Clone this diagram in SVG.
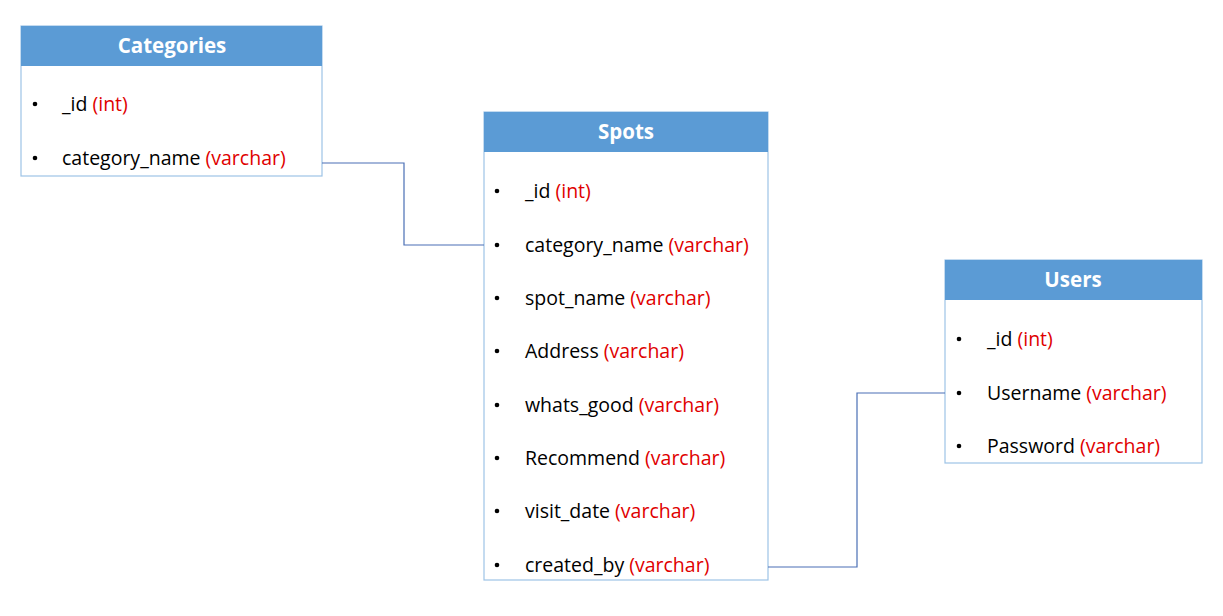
<svg xmlns="http://www.w3.org/2000/svg" width="1223" height="616" viewBox="0 0 1223 616">
<style>
.box{fill:#fff;stroke:#9DC3E6;stroke-width:1.2}
.hdr{fill:#5B9BD5}
.title{font-family:"Open Sans","Liberation Sans",sans-serif;font-weight:bold;font-size:20.5px;fill:#fff;text-anchor:middle}
.row{font-family:"Open Sans","Liberation Sans",sans-serif;font-size:19.5px;fill:#000}
.t{fill:#E00000}
.bul{fill:#000}
.conn{fill:none;stroke:#4A6FB5;stroke-width:1.2}
</style>
<rect width="1223" height="616" fill="#fff"/>
<g id="categories">
<rect class="box" x="21" y="26" width="301" height="150"/>
<rect class="hdr" x="21" y="26" width="301" height="40"/>
<text class="title" x="172" y="53">Categories</text>
<circle class="bul" cx="35" cy="104" r="2.3"/><text class="row" x="62" y="111">_id <tspan class="t">(int)</tspan></text>
<circle class="bul" cx="35" cy="158" r="2.3"/><text class="row" x="62" y="165">category_name <tspan class="t">(varchar)</tspan></text>
</g>
<g id="spots">
<rect class="box" x="484" y="112" width="284" height="468"/>
<rect class="hdr" x="484" y="112" width="284" height="40"/>
<text class="title" x="626" y="139">Spots</text>
<circle class="bul" cx="497" cy="191" r="2.3"/><text class="row" x="525" y="198">_id <tspan class="t">(int)</tspan></text>
<circle class="bul" cx="497" cy="245" r="2.3"/><text class="row" x="525" y="252">category_name <tspan class="t">(varchar)</tspan></text>
<circle class="bul" cx="497" cy="298" r="2.3"/><text class="row" x="525" y="305">spot_name <tspan class="t">(varchar)</tspan></text>
<circle class="bul" cx="497" cy="351" r="2.3"/><text class="row" x="525" y="358">Address <tspan class="t">(varchar)</tspan></text>
<circle class="bul" cx="497" cy="405" r="2.3"/><text class="row" x="525" y="412">whats_good <tspan class="t">(varchar)</tspan></text>
<circle class="bul" cx="497" cy="458" r="2.3"/><text class="row" x="525" y="465">Recommend <tspan class="t">(varchar)</tspan></text>
<circle class="bul" cx="497" cy="511" r="2.3"/><text class="row" x="525" y="518">visit_date <tspan class="t">(varchar)</tspan></text>
<circle class="bul" cx="497" cy="565" r="2.3"/><text class="row" x="525" y="572">created_by <tspan class="t">(varchar)</tspan></text>
</g>
<g id="users">
<rect class="box" x="945" y="260" width="257" height="203"/>
<rect class="hdr" x="945" y="260" width="257" height="40"/>
<text class="title" x="1073" y="287">Users</text>
<circle class="bul" cx="959" cy="339" r="2.3"/><text class="row" x="987" y="346">_id <tspan class="t">(int)</tspan></text>
<circle class="bul" cx="959" cy="393" r="2.3"/><text class="row" x="987" y="400">Username <tspan class="t">(varchar)</tspan></text>
<circle class="bul" cx="959" cy="446" r="2.3"/><text class="row" x="987" y="453">Password <tspan class="t">(varchar)</tspan></text>
</g>
<g id="connectors">
<polyline class="conn" points="322,163 404,163 404,245 484,245"/>
<polyline class="conn" points="945,393 857,393 857,567 768,567"/>
</g>
</svg>
